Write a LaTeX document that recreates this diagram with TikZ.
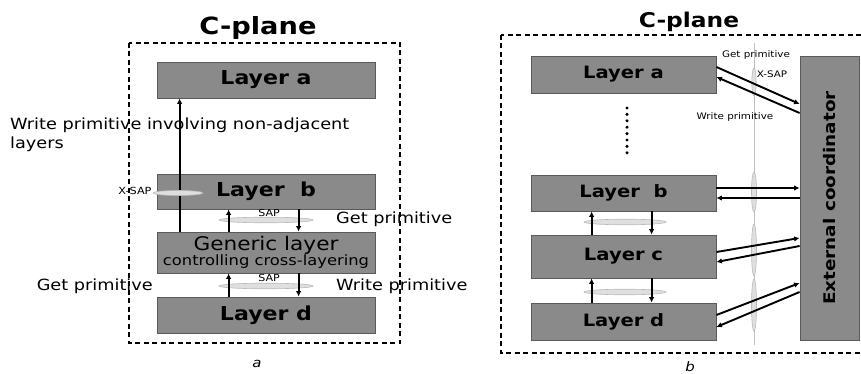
\documentclass[tikz,border=0pt]{standalone}
\usepackage{fontspec}
\setmainfont[FakeStretch=1.15]{DejaVu Sans}
\usetikzlibrary{arrows.meta,shapes.geometric}
\definecolor{boxfill}{HTML}{8A8A8A}
\definecolor{boxline}{HTML}{5A5A5A}
\tikzset{
  lay/.style={draw=boxline, line width=0.8pt, fill=boxfill, inner sep=0pt, minimum width=#1},
  lay/.default=218pt,
  lbl/.style={font=\fontsize{15.4}{19}\selectfont, inner sep=0pt},
  sml/.style={font=\fontsize{9}{10}\selectfont, inner sep=0pt},
  arr/.style={line width=1.9pt, -{Latex[length=5.5pt,width=5.5pt]}},
  frame/.style={dashed, line width=1.1pt, dash pattern=on 5pt off 3.5pt},
  tube/.style={fill=gray!25, draw=gray!55, line width=0.6pt},
  capt/.style={font=\itshape\fontsize{13}{13}\selectfont, inner sep=0pt}
}
\begin{document}
\begin{tikzpicture}[x=1pt,y=-1pt]
\useasboundingbox (0,0) rectangle (861,374);
\fill[white] (0,0) rectangle (861,374);
% ---------- panel a ----------
\draw[frame] (129,43) rectangle (400,343);
\node[font=\bfseries\fontsize{23.7}{24}\selectfont] (ta) at (258,28) {C-plane};
\node[lay, minimum height=36pt, font=\bfseries\fontsize{19.2}{19}\selectfont] (la) at (266,80) {Layer a};
\node[lay, minimum height=35pt, font=\bfseries\fontsize{19.2}{19}\selectfont] (lb) at (266,191.5) {Layer\ \ b};
\node[lay, minimum height=41pt, align=center, font=\fontsize{18.8}{18}\selectfont] (gen) at (266,252.5) {Generic layer\\[-3pt]{\fontsize{14.2}{14}\selectfont controlling cross-layering}};
\node[lay, minimum height=36pt, font=\bfseries\fontsize{19.2}{19}\selectfont] (ld) at (266,315) {Layer d};
% long arrow
\draw[arr] ([xshift=23pt]gen.north west) -- ([xshift=23pt]la.south west);
% X-SAP
\fill[tube] (178,193) ellipse (25 and 2.5);
\node[sml, font=\fontsize{9.8}{10}\selectfont] (xsap) at (135,191) {X-SAP};
% SAP b-gen
\fill[tube] (266,220) ellipse (47 and 2.8);
\draw[arr] ([xshift=72pt]gen.north west) -- ([xshift=72pt]lb.south west);
\draw[arr] ([xshift=142pt]lb.south west) -- ([xshift=142pt]gen.north west);
\node[sml, font=\fontsize{9.6}{10}\selectfont] (sap1) at (269,213) {SAP};
% SAP gen-d
\fill[tube] (266,286) ellipse (47 and 2.8);
\draw[arr] ([xshift=72pt]ld.north west) -- ([xshift=72pt]gen.south west);
\draw[arr] ([xshift=142pt]gen.south west) -- ([xshift=142pt]ld.north west);
\node[sml, font=\fontsize{9.6}{10}\selectfont] (sap2) at (269,278) {SAP};
% labels
\node[lbl, anchor=west, align=left] (wp) at (10,135) {Write primitive involving non-adjacent\\layers};
\node[lbl, anchor=west] (gp1) at (336,219) {Get primitive};
\node[lbl, anchor=east] (gp2) at (153,286) {Get primitive};
\node[lbl, anchor=west] (wp2) at (336,286) {Write primitive};
\node[capt] (capa) at (257,364) {a};
% ---------- panel b ----------
\begin{scope}
\clip (490,0) rectangle (861,374);
\draw[frame] (501,35) rectangle (890,353);
\end{scope}
\node[font=\bfseries\fontsize{20.3}{20}\selectfont] (tb) at (689,22) {C-plane};
\node[lay=185pt, minimum height=37pt, font=\bfseries\fontsize{17}{17}\selectfont] (ra) at (623.5,74.5) {Layer a};
\node[lay=185pt, minimum height=36pt, font=\bfseries\fontsize{17}{17}\selectfont] (rb) at (623.5,193) {Layer\ \ b};
\node[lay=185pt, minimum height=43pt, font=\bfseries\fontsize{17}{17}\selectfont] (rc) at (623.5,256.5) {Layer c};
\node[lay=185pt, minimum height=37pt, font=\bfseries\fontsize{17}{17}\selectfont] (rd) at (623.5,321.5) {Layer d};
\node[lay=59pt, minimum height=284pt, font=\bfseries\fontsize{16}{16}\selectfont] (co) at (829.5,198) {\rotatebox{90}{External coordinator}};
% dots
\foreach \i in {0,...,7} \fill (627,108+6.4*\i) circle (1.7);
% vertical X-SAP line
\draw[gray!50, line width=1pt] (754,43) -- (754,345);
\fill[tube] (754,82) ellipse (2.2 and 14);
\fill[tube] (754,192) ellipse (2.5 and 20);
\fill[tube] (754,250) ellipse (2.5 and 26);
\fill[tube] (754,305) ellipse (2.5 and 26);
% SAP between layers
\fill[tube] (625,222) ellipse (41 and 2.8);
\draw[arr] ([xshift=61pt]rc.north west) -- ([xshift=61pt]rb.south west);
\draw[arr] ([xshift=121pt]rb.south west) -- ([xshift=121pt]rc.north west);
\fill[tube] (625,292) ellipse (41 and 2.8);
\draw[arr] ([xshift=61pt]rd.north west) -- ([xshift=61pt]rc.south west);
\draw[arr] ([xshift=121pt]rc.south west) -- ([xshift=121pt]rd.north west);
% arrows to coordinator
\draw[arr] ([yshift=7.5pt]ra.east) -- ([yshift=94pt]co.west);
\draw[arr] ([yshift=85pt]co.west) -- ([yshift=-2.5pt]ra.east);
\draw[arr] ([yshift=5pt]rb.east) -- ([yshift=10pt]co.west);
\draw[arr] ([yshift=0pt]co.west) -- ([yshift=-5pt]rb.east);
\draw[arr] ([yshift=4.5pt]rc.east) -- ([yshift=-40pt]co.west);
\draw[arr] ([yshift=-48pt]co.west) -- ([yshift=-5.5pt]rc.east);
\draw[arr] ([yshift=6.5pt]rd.east) -- ([yshift=-85pt]co.west);
\draw[arr] ([yshift=-94pt]co.west) -- ([yshift=-5.5pt]rd.east);
% small labels
\node[sml] (gpb) at (756,55) {Get primitive};
\node[sml] (xsapb) at (772,74) {X-SAP};
\node[sml] (wpb) at (735,117) {Write primitive};
\node[capt] (capb) at (690,367) {b};
\end{tikzpicture}
\end{document}
